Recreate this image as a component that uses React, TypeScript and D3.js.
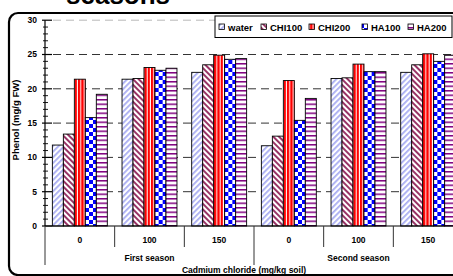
import React from "react";
import * as d3 from "d3";

// categories
const seasons = ["First season", "Second season"];
const doses = ["0", "100", "150"];
const seriesNames = ["water", "CHI100", "CHI200", "HA100", "HA200"];

// phenol values, one per (season, dose) group
const water = [11.8, 21.4, 22.4, 11.7, 21.5, 22.4];
const chi100 = [13.4, 21.5, 23.5, 13.1, 21.6, 23.5];
const chi200 = [21.4, 23.1, 24.9, 21.2, 23.6, 25.1];
const ha100 = [15.8, 22.7, 24.3, 15.4, 22.5, 24.0];
const ha200 = [19.2, 23.0, 24.4, 18.6, 22.5, 24.9];

const yTicks = [0, 5, 10, 15, 20, 25, 30];

const W = 453;
const H = 276;
const FONT = "'Liberation Sans', Arial, sans-serif";

const App: React.FC = () => {
  const values = [water, chi100, chi200, ha100, ha200];
  const groups = seasons.flatMap((s) => doses.map((d) => `${s}|${d}`));

  const left = 45;
  const right = 463;
  const base = 226;

  const x0 = d3.scaleBand<string>().domain(groups).range([left, right]).padding(0);
  const x1 = d3
    .scaleBand<string>()
    .domain(seriesNames)
    .range([0, x0.bandwidth()])
    .paddingInner(0)
    .paddingOuter(0.67);
  const y = d3.scaleLinear().domain([0, 30]).range([base, 20.2]);

  const seasonX = d3.scaleBand<string>().domain(seasons).range([left, right]);

  const minorTicks = d3.range(0, 31, 1).filter((v) => v % 5 !== 0);

  const fills = ["url(#pWater)", "url(#pChi100)", "url(#pChi200)", "url(#pHa100)", "url(#pHa200)"];
  const legendX = [219, 261, 309, 362, 408];

  return (
    <svg
      width={W}
      height={H}
      style={{ position: "absolute", left: 0, top: 0, background: "#fff" }}
      fontFamily={FONT}
      fontWeight="bold"
    >
      <defs>
        <pattern id="pWater" width="4" height="4" patternUnits="userSpaceOnUse" patternTransform="rotate(45)">
          <rect width="4" height="4" fill="#fff" />
          <rect width="1.8" height="4" fill="#a9adf2" />
        </pattern>
        <pattern id="pChi100" width="4" height="4" patternUnits="userSpaceOnUse" patternTransform="rotate(-45)">
          <rect width="4" height="4" fill="#fff" />
          <rect width="2" height="4" fill="#993366" />
        </pattern>
        <pattern id="pChi200" width="3.3" height="4" patternUnits="userSpaceOnUse">
          <rect width="3.3" height="4" fill="#ff0000" />
          <rect x="2.3" width="1" height="4" fill="#fff" />
        </pattern>
        <pattern id="pHa100" width="8" height="8" patternUnits="userSpaceOnUse">
          <rect width="8" height="8" fill="#fff" />
          <rect width="4" height="4" fill="#0000ff" />
          <rect x="4" y="4" width="4" height="4" fill="#0000ff" />
        </pattern>
        <pattern id="pHa200" width="4" height="4.5" patternUnits="userSpaceOnUse">
          <rect width="4" height="4.5" fill="#fff" />
          <rect y="0" width="4" height="1.5" fill="#800080" />
        </pattern>
      </defs>

      {/* title remnant */}
      <text x={66} y={4} fontSize={26} fill="#000">
        seasons
      </text>

      {/* outer frame */}
      <rect x={9} y={13} width={470} height={262} rx={9} fill="none" stroke="#000" strokeWidth={2.2} />

      {/* gridlines */}
      {yTicks
        .filter((t) => t > 0)
        .map((t) => (
          <line
            key={`g${t}`}
            x1={53}
            x2={right}
            y1={y(t)}
            y2={y(t)}
            stroke={t === 30 ? "#b8b8b8" : "#333"}
            strokeWidth={1}
            strokeDasharray="8,5"
          />
        ))}

      {/* bars */}
      {groups.map((g, gi) => (
        <g key={g} transform={`translate(${x0(g)},0)`}>
          {seriesNames.map((s, si) => (
            <rect
              key={s}
              x={x1(s)}
              y={y(values[si][gi])}
              width={x1.bandwidth()}
              height={base - y(values[si][gi])}
              fill={fills[si]}
              stroke="#000"
              strokeWidth={0.9}
            />
          ))}
        </g>
      ))}

      {/* y axis */}
      <line x1={left} x2={left} y1={base} y2={y(30)} stroke="#000" strokeWidth={1.2} />
      {yTicks.map((t) => (
        <g key={`t${t}`}>
          <line x1={42} x2={52} y1={y(t)} y2={y(t)} stroke="#000" strokeWidth={1.2} />
          <text x={37} y={y(t)} dy="0.35em" textAnchor="end" fontSize={8.5}>
            {t}
          </text>
        </g>
      ))}
      {minorTicks.map((t) => (
        <line key={`m${t}`} x1={43} x2={48} y1={y(t)} y2={y(t)} stroke="#000" strokeWidth={0.9} />
      ))}
      <text
        transform={`translate(19,${120}) rotate(-90)`}
        textAnchor="middle"
        fontSize={9.5}
      >
        Phenol (mg/g FW)
      </text>

      {/* x axis */}
      <line x1={left} x2={right} y1={base} y2={base} stroke="#000" strokeWidth={1.2} />
      {groups.map((g, gi) => {
        const xs = x0(g) as number;
        const longTick = gi % doses.length === 0;
        return (
          <g key={`x${g}`}>
            <line
              x1={xs}
              x2={xs}
              y1={base}
              y2={longTick ? 265 : 247}
              stroke="#333"
              strokeWidth={1}
            />
            <text x={xs + x0.bandwidth() / 2} y={243} textAnchor="middle" fontSize={8.5}>
              {doses[gi % doses.length]}
            </text>
          </g>
        );
      })}
      {seasons.map((s) => (
        <text
          key={s}
          x={(seasonX(s) as number) + seasonX.bandwidth() / 2}
          y={261}
          textAnchor="middle"
          fontSize={8.5}
        >
          {s}
        </text>
      ))}
      <text x={244} y={273} textAnchor="middle" fontSize={8.5}>
        Cadmium chloride (mg/kg soil)
      </text>

      {/* legend */}
      <rect x={215} y={16} width={237} height={21.5} fill="#fff" stroke="#000" strokeWidth={1} />
      {seriesNames.map((s, i) => (
        <g key={`l${s}`}>
          <rect x={legendX[i]} y={24} width={5.5} height={5.5} fill={fills[i]} stroke="#000" strokeWidth={0.8} />
          <text x={legendX[i] + 9} y={30.5} fontSize={9.5}>
            {s}
          </text>
        </g>
      ))}
    </svg>
  );
};

export default App;
